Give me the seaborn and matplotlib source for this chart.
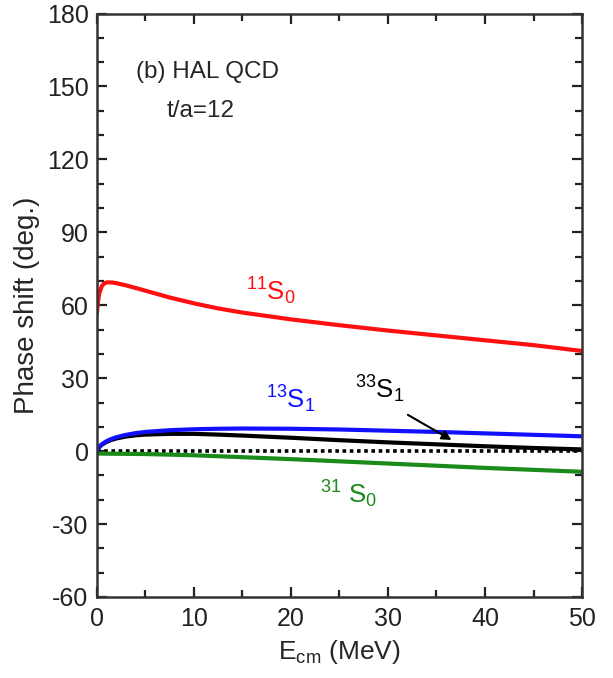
import numpy as np
import pandas as pd
import seaborn as sns
import matplotlib.pyplot as plt
from matplotlib.ticker import MultipleLocator

e_red = [0, 0.1, 0.25, 0.5, 0.75, 1.0, 1.5, 2, 3, 4, 5, 7.5, 10, 12.5, 15, 20, 25, 30, 35, 40, 45, 50]
d_11s0 = [56.5, 61, 65, 67.8, 69, 69.4, 69.4, 69.1, 68.2, 67.1, 66, 63.2, 60.8, 58.7, 57, 54.2, 51.8, 49.6, 47.6, 45.6, 43.6, 41.2]

e_pos = [0, 0.25, 0.5, 1, 1.5, 2, 3, 4, 5, 7.5, 10, 12.5, 15, 20, 25, 30, 35, 40, 45, 50]
d_13s1 = [0, 1.8, 2.8, 4.1, 5.0, 5.7, 6.7, 7.4, 7.9, 8.6, 9.0, 9.2, 9.3, 9.2, 8.9, 8.4, 7.9, 7.3, 6.7, 6.1]
d_33s1 = [0, 1.7, 2.6, 3.8, 4.6, 5.2, 6.0, 6.5, 6.8, 7.1, 7.1, 6.8, 6.4, 5.5, 4.5, 3.6, 2.8, 2.0, 1.3, 0.7]

e_neg = [0, 5, 10, 15, 20, 25, 30, 35, 40, 45, 50]
d_31s0 = [-1.0, -1.2, -1.7, -2.5, -3.3, -4.2, -5.1, -6.0, -6.9, -7.7, -8.5]

e_zero = [0, 50]
d_zero = [0, 0]

sns.set_theme(style="ticks")
plt.rcParams['font.family'] = ['Liberation Sans', 'DejaVu Sans']
plt.rcParams['mathtext.default'] = 'regular'
plt.rcParams['axes.unicode_minus'] = False

fig = plt.figure(figsize=(6.13, 6.78), dpi=100)
ax = fig.add_axes([0.158, 0.1195, 0.7915, 0.8605])

lw = 3
sns.lineplot(x=e_zero, y=d_zero, ax=ax, color='black', lw=2.6, linestyle=(0, (1, 1)))
sns.lineplot(x=e_neg, y=d_31s0, ax=ax, color='#1a8a1a', lw=lw)
sns.lineplot(x=e_pos, y=d_33s1, ax=ax, color='black', lw=lw)
sns.lineplot(x=e_pos, y=d_13s1, ax=ax, color='#1010ff', lw=lw)
sns.lineplot(x=e_red, y=d_11s0, ax=ax, color='#ff1010', lw=lw)

ax.set_xlim(0, 50)
ax.set_ylim(-60, 180)
ax.xaxis.set_major_locator(MultipleLocator(10))
ax.xaxis.set_minor_locator(MultipleLocator(5))
ax.yaxis.set_major_locator(MultipleLocator(30))
ax.yaxis.set_minor_locator(MultipleLocator(10))
ax.tick_params(which='both', direction='in', top=True, right=True, width=1.6,
               labelsize=18, colors='#222222')
ax.tick_params(axis='x', pad=7)
ax.tick_params(axis='y', pad=6)
ax.tick_params(which='major', length=7)
ax.tick_params(which='minor', length=5)
for s in ax.spines.values():
    s.set_linewidth(1.8)
    s.set_color('#333333')

ax.set_xlabel('E$_{cm}$ (MeV)', fontsize=19, labelpad=5)
ax.set_ylabel('Phase shift (deg.)', fontsize=20, labelpad=5)

ax.text(4.0, 156, '(b) HAL QCD', fontsize=17.5, va='center', ha='left')
ax.text(7.2, 140, 't/a=12', fontsize=17.5, va='center', ha='left')

ax.text(15.4, 62, '$^{11}$S$_0$', color='#ff1010', fontsize=18.5, va='baseline')
ax.text(17.4, 17.5, '$^{13}$S$_1$', color='#1010ff', fontsize=18.5, va='baseline')
ax.text(26.6, 21.5, '$^{33}$S$_1$', color='black', fontsize=18.5, va='baseline')
ax.text(23.0, -21.5, '$^{31}$ S$_0$', color='#1a8a1a', fontsize=18.5, va='baseline')

ax.annotate('', xy=(36.8, 4.0), xytext=(31.8, 15.5),
            arrowprops=dict(arrowstyle='-|>', color='black', lw=1.5, mutation_scale=14))

fig.savefig('out.png', dpi=100)
